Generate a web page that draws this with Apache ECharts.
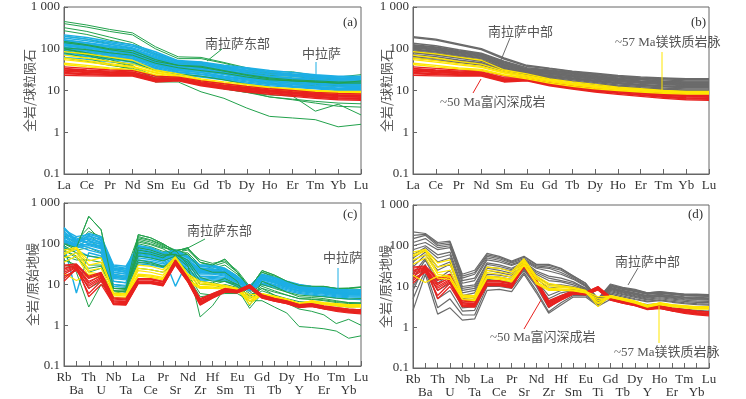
<!DOCTYPE html>
<html>
<head>
<meta charset="utf-8">
<script src="https://cdn.jsdelivr.net/npm/echarts@6/dist/echarts.min.js"></script>
<style>
  html, body { margin: 0; padding: 0; background: #fff; }
  #chart { width: 746px; height: 399px; }
</style>
</head>
<body>
<div id="chart"></div>
<script>
// 稀土元素 (球粒陨石标准化) 与 微量元素 (原始地幔标准化) 的元素顺序
const reeElements = ['La', 'Ce', 'Pr', 'Nd', 'Sm', 'Eu', 'Gd', 'Tb', 'Dy', 'Ho', 'Er', 'Tm', 'Yb', 'Lu'];
const spiderElements = ['Rb', 'Ba', 'Th', 'U', 'Nb', 'Ta', 'La', 'Ce', 'Pr', 'Sr', 'Nd', 'Zr', 'Hf', 'Sm', 'Eu', 'Ti', 'Gd', 'Tb', 'Dy', 'Y', 'Ho', 'Er', 'Tm', 'Yb', 'Lu'];

// 南拉萨东部 (REE)
const reeEastSouthLhasa = [
  [450, 370, 290, 240, 112, 64, 62, 47, 35, 28, 28, 23, 21, 24],
  [400, 330, 260, 215, 100, 58, 58, 45, 33, 26, 25, 21, 19, 22],
  [320, 260, 190, 140, 75, 50, 48, 38, 30, 25, 23, 20, 19, 20],
  [270, 220, 160, 125, 70, 47, 45, 36, 28, 23, 22, 19, 18, 19],
  [200, 170, 130, 100, 60, 44, 43, 34, 27, 22, 20, 18, 17, 17],
  [150, 125, 100, 90, 55, 40, 36, 29, 23, 19, 17, 16, 15, 15],
  [140, 120, 95, 80, 50, 40, 38, 30, 24, 20, 18, 17, 16, 16],
  [120, 100, 80, 65, 42, 33, 30, 25, 20, 17, 15, 14, 13, 14],
  [110, 90, 70, 58, 38, 30, 27, 22, 18, 15, 14, 13, 12.5, 13],
  [100, 80, 60, 48, 30, 25, 22, 18, 14, 12, 10, 9, 8.5, 9],
  [90, 70, 50, 38, 22, 18, 14, 11, 9, 7, 6.2, 5.5, 5, 4.8],
  [80, 60, 42, 32, 20, 18, 14, 11, 9, 7.8, 7.4, 3.2, 4.7, 2.6],
  [100, 75, 55, 40, 16, 16, 9.3, 6.5, 3.8, 2.4, 2.2, 2.0, 1.35, 1.55],
  [60, 50, 40, 34, 22, 18, 15, 12, 9.5, 7, 6, 5, 4.2, 4],
  [105, 95, 80, 70, 45, 35, 30, 26, 21, 18, 17, 16, 15, 17]
];

// 中拉萨 (REE)
const reeCentralLhasa = [
  [215, 185, 150, 125, 85, 52, 48, 40, 35, 30, 27, 24, 22, 22],
  [200, 170, 140, 115, 78, 50, 46, 38, 33, 28, 25, 23, 21, 21],
  [180, 155, 128, 105, 72, 47, 44, 36, 31, 27, 24, 22, 20, 20],
  [165, 140, 118, 98, 66, 44, 41, 34, 29, 25, 23, 21, 19, 19],
  [150, 128, 108, 90, 62, 42, 39, 32, 28, 24, 22, 20, 18, 18],
  [140, 120, 100, 84, 58, 40, 37, 30, 26, 22, 20, 18.5, 17, 17],
  [130, 112, 94, 78, 54, 38, 35, 29, 25, 21, 19, 17.5, 16, 16.5],
  [120, 104, 88, 73, 51, 36, 33, 27, 23, 20, 18, 16.5, 15, 15.5],
  [110, 96, 82, 68, 48, 34, 31, 26, 22, 19, 17, 15.5, 14.5, 14.5],
  [100, 88, 75, 63, 45, 32, 29, 24, 20, 17.5, 16, 14.5, 13.5, 13.5],
  [95, 82, 70, 59, 42, 30, 27, 22, 19, 16.5, 15, 13.5, 12.5, 12.5],
  [88, 76, 65, 55, 39, 28, 25, 21, 18, 15.5, 14, 12.5, 11.5, 12],
  [80, 70, 60, 51, 36, 27, 24, 20, 17, 14.5, 13, 12, 11, 11],
  [75, 65, 56, 48, 34, 25, 22, 19, 16, 14, 12.5, 11.5, 10.5, 10.5],
  [62, 56, 49, 44, 32, 24, 21, 18, 15, 13, 12, 11, 10, 10],
  [160, 138, 112, 92, 60, 40, 36, 30, 25, 21, 19, 17, 15.5, 16],
  [125, 108, 90, 76, 52, 35, 32, 26, 22, 19, 17, 15.5, 14, 14],
  [105, 92, 78, 65, 46, 33, 30, 25, 21, 18.5, 16.5, 15, 14, 14]
];

// 南拉萨中部 (REE)
const reeMidSouthLhasa = [
  [195, 170, 130, 100, 60, 40, 34, 29, 26, 23, 21, 20, 19, 19],
  [185, 162, 125, 96, 57, 38, 33, 28, 25, 22, 20, 19, 18, 18],
  [135, 118, 95, 78, 50, 35, 31, 27, 24, 21, 19.5, 18, 17, 17],
  [125, 110, 90, 75, 48, 33, 30, 26, 23, 20, 18.5, 17, 16, 16],
  [120, 105, 86, 72, 46, 32, 29, 25, 22, 19.5, 18, 16.5, 15.5, 15.5],
  [115, 100, 82, 68, 44, 31, 28, 24, 21, 18.5, 17, 16, 15, 15],
  [110, 96, 80, 66, 42, 30, 27, 23, 20.5, 18, 16.5, 15.5, 14.5, 14.6],
  [105, 92, 76, 63, 41, 29, 26, 22.5, 20, 17.5, 16, 15, 14, 14],
  [98, 87, 72, 60, 40, 28, 25, 21.5, 19, 17, 15.5, 14.5, 13.5, 13.6],
  [95, 84, 70, 58, 38, 27, 24.5, 21, 18.5, 16.5, 15, 14, 13, 13],
  [88, 78, 65, 54, 36, 26, 23, 20, 17.5, 15.5, 14, 13, 12.3, 12.3],
  [82, 73, 61, 52, 35, 25.5, 22.5, 19.5, 17, 15, 13.6, 12.6, 12, 12],
  [80, 71, 60, 50, 34, 25, 22, 19, 16.5, 14.5, 13.2, 12.3, 11.6, 11.6],
  [72, 64, 54, 46, 32, 24, 21, 18, 15.5, 13.6, 12.4, 11.5, 10.8, 10.8],
  [65, 58, 50, 43, 30, 23, 20, 17, 14.5, 12.8, 11.7, 10.8, 10.2, 10.2],
  [60, 54, 47, 41, 29, 22, 19.5, 16.5, 14, 12.2, 11.2, 10.4, 9.8, 9.8]
];

// ~57 Ma 镁铁质岩脉 (REE)
const reeDyke57 = [
  [85, 75, 63, 53, 31, 25, 19, 16, 14, 12, 11, 10, 9.5, 9.5],
  [70, 60, 50, 43, 29, 23, 18, 15, 13, 11.5, 10.5, 9.8, 9.3, 9.4],
  [60, 52, 44, 38, 27, 22, 17.5, 14.5, 12.5, 11, 10.2, 9.5, 9, 9],
  [55, 48, 41, 36, 26, 21, 17, 14, 12.2, 10.8, 10, 9.3, 8.8, 8.8],
  [45, 40, 35, 32, 24, 20, 16, 13.5, 11.8, 10.5, 9.7, 9, 8.5, 8.5],
  [42, 37, 33, 30, 23, 19, 15, 12.5, 11, 10, 9.2, 8.5, 8.2, 8.2]
];

// ~50 Ma 富闪深成岩 (REE)
const reePluton50 = [
  [37, 34, 31, 30, 22, 21, 17, 14.5, 12.5, 11, 10, 9, 8.5, 8.3],
  [34, 31, 29, 28, 20, 20, 16, 13.5, 11.8, 10.4, 9.4, 8.6, 8, 7.8],
  [33, 30, 28, 27, 20, 19.5, 15.5, 13, 11.4, 10, 9, 8.3, 7.7, 7.5],
  [31, 29, 27, 26, 19, 19, 15, 13, 11.2, 9.8, 8.8, 8.1, 7.5, 7.3],
  [30, 28, 26, 25, 18.5, 18.5, 14.8, 12.4, 10.8, 9.5, 8.6, 7.8, 7.3, 7],
  [29, 27, 25.5, 25, 18, 18.5, 14.5, 12.3, 10.6, 9.3, 8.4, 7.7, 7.1, 6.9],
  [27, 25.5, 24, 24, 17, 18, 14, 11.8, 10.1, 8.9, 8, 7.3, 6.7, 6.5],
  [26, 25, 24, 24.5, 17.5, 18, 14, 11.6, 10, 8.8, 7.9, 7.1, 6.6, 6.4],
  [25, 24, 23, 23, 16.5, 17.5, 13.5, 11.3, 9.6, 8.5, 7.6, 6.9, 6.3, 6.1],
  [23, 22.5, 22, 22, 16, 17, 13, 10.8, 9.2, 8.1, 7.2, 6.5, 6, 5.8]
];

// 南拉萨东部 (原始地幔标准化)
const spEastSouthLhasa = [
  [100, 80, 470, 220, 8, 8, 167, 140, 100, 65, 80, 35, 30, 42, 20, 8, 22, 17, 12, 9.5, 9, 9, 8, 8, 8.5],
  [180, 120, 250, 120, 25, 22, 150, 125, 95, 70, 75, 40, 33, 38, 22, 9, 20, 15, 11, 9, 8.5, 8.3, 7.5, 7.2, 7.5],
  [160, 100, 200, 150, 18, 16, 130, 110, 85, 60, 70, 35, 28, 35, 20, 8.5, 20, 16, 11.5, 9.2, 9, 8.8, 8, 8.2, 8.8],
  [150, 110, 160, 100, 15, 14, 140, 120, 90, 60, 60, 30, 25, 30, 18, 8, 18, 14, 10.5, 8.5, 8.2, 7.8, 7.2, 7, 7.2],
  [120, 90, 120, 80, 12, 11, 120, 100, 80, 70, 55, 25, 22, 25, 16, 7, 16, 12, 9.5, 8, 7.5, 7.2, 6.6, 6.4, 6.5],
  [100, 70, 80, 60, 10, 9, 100, 85, 65, 65, 45, 20, 18, 20, 14, 6.5, 14, 11, 8.5, 7, 6.8, 6.5, 6, 5.8, 6],
  [60, 20, 2.8, 10, 6, 7, 110, 95, 75, 50, 55, 25, 20, 20, 12, 3, 12, 9, 6.5, 5, 4.8, 4.5, 4, 3.6, 3.5],
  [90, 60, 30, 30, 7, 6.5, 80, 70, 55, 55, 40, 15, 12, 12, 9, 5, 8, 5.5, 3.5, 2.5, 2.2, 1.8, 1.1, 1.4, 1],
  [80, 60, 50, 45, 8, 8, 50, 45, 38, 50, 28, 10, 10, 12, 10, 6, 10, 8, 6.5, 5.5, 5.2, 5, 4.6, 4.4, 4.5],
  [70, 50, 20, 25, 8, 8, 40, 35, 28, 30, 18, 6, 5.5, 6, 6, 4, 4, 2.8, 2, 0.93, 0.88, 0.82, 0.72, 0.48, 0.55],
  [50, 40, 40, 35, 7, 6.5, 35, 32, 27, 40, 22, 8, 8, 10, 8.5, 5.5, 8, 6.5, 5.5, 4.5, 4.4, 4.2, 3.8, 3.6, 3.5],
  [40, 30, 15, 18, 7, 7, 60, 55, 45, 70, 30, 1.6, 3, 8, 8, 2.6, 6, 4.5, 3.6, 3, 2.9, 2.7, 2.5, 2.3, 2.4],
  [30, 25, 8, 12, 6, 6, 25, 23, 20, 35, 16, 5, 5.5, 8, 7.5, 4.5, 7, 5.5, 4.5, 3.8, 3.6, 3.4, 3, 2.8, 2.9],
  [70, 45, 25, 28, 8, 7.5, 70, 62, 50, 55, 35, 12, 11, 14, 10, 5, 9, 7, 5.5, 4.5, 4.3, 4, 3.6, 3.4, 3.5]
];

// 中拉萨 (原始地幔标准化)
const spCentralLhasa = [
  [250, 120, 180, 150, 30, 28, 90, 80, 60, 70, 50, 30, 30, 25, 16, 8, 18, 15, 12, 10, 9, 8.5, 8, 7.5, 7.4],
  [240, 110, 150, 130, 26, 24, 88, 78, 60, 62, 46, 27, 27, 22, 15, 9, 17, 14, 11, 9.3, 8.4, 7.8, 7.3, 6.9, 6.8],
  [220, 150, 170, 140, 28, 25, 85, 75, 58, 68, 48, 29, 28, 24, 15.5, 9, 17.5, 14.5, 11.5, 9.8, 8.8, 8.2, 7.7, 7.2, 7.2],
  [200, 110, 160, 120, 25, 22, 80, 70, 55, 65, 45, 28, 27, 23, 15, 8.5, 17, 14, 11, 9.5, 8.5, 8, 7.5, 7, 7],
  [180, 130, 110, 100, 20, 18, 75, 65, 52, 9, 38, 24, 23, 20, 13.5, 8.5, 15.5, 12.5, 10, 8.6, 7.8, 7.3, 6.8, 6.4, 6.3],
  [170, 100, 140, 110, 22, 20, 70, 62, 50, 60, 40, 25, 24, 21, 14, 8, 16, 13, 10.5, 9, 8, 7.5, 7, 6.6, 6.6],
  [160, 140, 100, 90, 17, 15, 58, 52, 43, 55, 34, 21, 21, 18.5, 12.5, 8, 14.5, 12, 9.8, 8.3, 7.4, 6.9, 6.4, 6.1, 6],
  [150, 90, 120, 95, 20, 18, 62, 56, 45, 55, 36, 22, 22, 19, 13, 8.5, 15, 12, 10, 8.5, 7.5, 7, 6.5, 6.2, 6.2],
  [140, 120, 130, 105, 24, 20, 65, 58, 47, 58, 38, 23, 23, 20, 13.5, 8, 15, 12.5, 10, 8.8, 7.8, 7.2, 6.7, 6.4, 6.3],
  [130, 85, 100, 85, 18, 16, 55, 50, 42, 52, 33, 20, 20, 18, 12, 8, 14, 11.5, 9.5, 8, 7.2, 6.7, 6.2, 5.9, 5.8],
  [125, 95, 95, 80, 15, 14, 52, 47, 40, 48, 31, 19, 19, 17, 12, 8, 13.5, 11, 9.2, 7.8, 7, 6.5, 6, 5.7, 5.6],
  [120, 80, 90, 75, 16, 15, 50, 45, 38, 50, 30, 18, 18, 16, 11.5, 7.5, 13, 11, 9, 7.6, 6.8, 6.4, 5.9, 5.6, 5.5],
  [110, 100, 80, 65, 14, 13, 45, 41, 35, 45, 27, 16, 16, 15, 11, 8, 12, 10, 8.5, 7.2, 6.5, 6.1, 5.6, 5.3, 5.2],
  [100, 90, 70, 58, 12, 11, 40, 37, 32, 42, 24, 14, 15, 14, 10, 7.5, 11, 9.5, 8, 6.8, 6.2, 5.8, 5.3, 5, 4.9],
  [90, 6.2, 60, 50, 10, 9.5, 36, 34, 29, 40, 22, 13, 14, 13, 9.5, 7.5, 10.5, 9, 7.5, 6.4, 5.8, 5.4, 5, 4.7, 4.6],
  [80, 70, 50, 45, 9, 8.5, 32, 30, 26, 35, 20, 12, 13, 12, 9, 7, 10, 8.5, 7, 6, 5.5, 5.1, 4.7, 4.4, 4.3]
];

// 南拉萨中部 (原始地幔标准化)
const spMidSouthLhasa = [
  [220, 200, 120, 130, 20, 25, 65, 55, 42, 55, 35, 35, 28, 18, 12, 5, 11.5, 9.5, 8.5, 7, 7.5, 7, 6.5, 6.5, 6.3],
  [180, 190, 110, 120, 18, 22, 60, 52, 40, 52, 34, 33, 27, 18, 12, 5, 11, 9.2, 8.2, 7, 7.4, 6.9, 6.4, 6.3, 6.2],
  [150, 180, 100, 110, 16, 20, 55, 48, 38, 48, 32, 30, 25, 17, 11, 4.5, 10.5, 9, 8, 6.8, 7.2, 6.7, 6.3, 6.2, 6],
  [120, 150, 90, 100, 14, 16, 50, 44, 35, 45, 30, 28, 22, 16, 10.5, 4.6, 10.2, 8.7, 7.7, 6.6, 7, 6.5, 6.1, 6, 5.8],
  [100, 120, 80, 90, 12, 14, 45, 40, 33, 42, 28, 24, 20, 15, 10, 4.2, 10, 8.5, 7.5, 6.4, 6.8, 6.4, 6, 5.8, 5.7],
  [80, 100, 60, 70, 10, 11, 38, 34, 28, 40, 24, 18, 16, 13, 9, 4.4, 9.5, 8, 7, 6, 6.4, 6, 5.6, 5.4, 5.3],
  [60, 90, 50, 60, 9, 10, 35, 31, 26, 38, 22, 16, 14, 12, 9, 4.5, 9.2, 7.8, 6.8, 5.8, 6.2, 5.8, 5.4, 5.2, 5.1],
  [50, 80, 40, 50, 8, 9, 30, 28, 24, 35, 20, 14, 13, 11, 8.5, 4, 9, 7.5, 6.5, 5.6, 6, 5.6, 5.2, 5, 5],
  [40, 70, 30, 40, 7, 8, 28, 25, 21, 32, 18, 11, 11, 10, 8.2, 4.2, 8.8, 7.3, 6.3, 5.4, 5.8, 5.4, 5, 4.9, 4.8],
  [30, 60, 25, 35, 6, 7, 25, 22, 19, 30, 16, 9, 10, 9.5, 8, 4.3, 8.5, 7, 6, 5.2, 5.6, 5.2, 4.8, 4.7, 4.6],
  [20, 50, 15, 25, 5, 5.5, 20, 19, 17, 30, 14, 6, 8, 8.5, 7.5, 4.1, 8, 6.6, 5.7, 4.9, 5.3, 4.9, 4.6, 4.4, 4.3],
  [15, 45, 12, 20, 4, 5, 18, 17, 15, 28, 12, 5, 7, 8, 7, 4, 7.5, 6.3, 5.4, 4.7, 5, 4.6, 4.3, 4.1, 4],
  [10, 30, 8, 12, 3, 3.2, 15, 14, 13, 26, 11, 4, 6, 7, 6.8, 3.9, 7, 5.9, 5, 4.4, 4.7, 4.3, 4, 3.8, 3.7],
  [8, 35, 5, 8, 2.5, 2.6, 12, 12, 11, 25, 10, 3, 5, 6.5, 6.5, 3.8, 6.5, 5.5, 4.8, 4.2, 4.5, 4.1, 3.8, 3.6, 3.5],
  [5, 25, 3, 5, 2, 2, 10, 10, 9, 22, 8, 2.4, 4, 6, 6, 3.5, 5.5, 4.7, 4, 3.6, 3.8, 3.5, 3.2, 3, 2.9],
  [2.6, 20, 2.1, 3, 1.5, 1.6, 8, 8.5, 7.5, 20, 7, 2.2, 3.5, 5.5, 5.5, 3.3, 4.8, 4.1, 3.5, 3.1, 3.3, 3, 2.8, 2.6, 2.5]
];

// ~57 Ma 镁铁质岩脉 (原始地幔标准化)
const spDyke57 = [
  [70, 82, 38, 45, 6.2, 6, 30, 28, 23, 48, 18, 12, 10.5, 9.5, 8, 3.2, 6, 5.2, 4.4, 3.4, 4, 3.6, 3.4, 3.2, 3.2],
  [60, 80, 30, 35, 6, 5.8, 25, 23, 20, 45, 16.5, 11, 10, 9, 7.8, 4, 5.9, 5.1, 4.3, 3.4, 3.9, 3.5, 3.3, 3.1, 3.1],
  [55, 75, 22, 25, 5.5, 5.2, 22, 20, 17, 42, 15, 10, 9.5, 8.8, 7.6, 5.6, 5.8, 5, 4.3, 3.5, 3.9, 3.5, 3.3, 3.1, 3.1],
  [45, 60, 20, 18, 5, 4.8, 18, 17, 15, 38, 13, 9, 8.8, 8.2, 7.3, 4.5, 5.6, 4.8, 4.1, 3.3, 3.8, 3.4, 3.2, 3, 3],
  [35, 50, 16, 15, 4.8, 4.5, 16, 15, 13, 33, 11.5, 8, 8, 7.8, 7, 3.8, 5.4, 4.6, 3.9, 3.1, 3.6, 3.2, 3, 2.8, 2.8],
  [19, 12.5, 18, 17, 5.8, 5.5, 17, 16, 14, 35, 12, 8.5, 8.3, 8, 7.1, 5, 5.5, 4.7, 4, 3.2, 3.7, 3.3, 3.1, 2.9, 2.9]
];

// ~50 Ma 富闪深成岩 (原始地幔标准化)
const spPluton50 = [
  [30, 32, 16, 20, 4.8, 4.6, 14, 14, 12, 40, 15, 4.5, 6, 8, 7.2, 10, 5.6, 4.6, 4, 3.2, 3.4, 3, 2.7, 2.5, 2.4],
  [28, 31, 15, 19, 4.6, 4.4, 13.5, 13.5, 11.8, 39, 14.5, 4.3, 5.9, 7.8, 7.1, 9.8, 5.5, 4.5, 3.9, 3.2, 3.3, 2.9, 2.7, 2.5, 2.4],
  [25, 30, 14, 18, 4.4, 4.2, 13, 13, 11.5, 38, 14, 4.2, 5.7, 7.6, 7, 9.6, 5.4, 4.4, 3.8, 3.1, 3.3, 2.9, 2.6, 2.4, 2.3],
  [24, 29, 5, 10, 3.3, 3.2, 10.8, 10.8, 9.4, 30, 11.8, 3.2, 4.7, 6.6, 6.3, 8.3, 4.7, 3.9, 3.4, 2.8, 2.9, 2.5, 2.3, 2.1, 2],
  [22, 28, 12, 16, 4, 3.9, 12, 12, 10.8, 36, 13, 3.9, 5.4, 7.3, 6.8, 9.2, 5.2, 4.3, 3.7, 3, 3.2, 2.8, 2.5, 2.3, 2.2],
  [20, 27, 11, 17, 3.9, 3.8, 12, 12, 10.5, 35, 12.8, 3.7, 5.2, 7.1, 6.7, 9, 5.1, 4.2, 3.6, 2.9, 3.1, 2.7, 2.5, 2.3, 2.2],
  [18, 26, 10, 15, 3.7, 3.6, 11.5, 11.5, 10.2, 34, 12.5, 3.6, 5.1, 7, 6.6, 8.8, 5, 4.1, 3.6, 2.9, 3.1, 2.7, 2.4, 2.2, 2.1],
  [16, 22, 9, 14, 3.5, 3.4, 11, 11.2, 9.8, 33, 12.2, 3.4, 4.9, 6.8, 6.5, 8.6, 4.9, 4, 3.5, 2.8, 3, 2.6, 2.4, 2.2, 2.1],
  [14, 25, 8, 13, 3.4, 3.3, 11, 11, 9.6, 32, 12, 3.3, 4.8, 6.7, 6.4, 8.4, 4.8, 4, 3.5, 2.8, 3, 2.6, 2.3, 2.1, 2],
  [12, 24, 6, 12, 3.2, 3.1, 10.5, 10.5, 9.2, 31, 11.5, 3.1, 4.6, 6.5, 6.2, 8.2, 4.6, 3.9, 3.4, 2.7, 2.9, 2.5, 2.2, 2, 1.9]
];

const GREEN = '#22a24c';
const BLUE = '#1daee5';
const YELLOW = '#ffe600';
const RED = '#e8221f';
const GRAY = '#6b6b6b';
const SERIF = "'Liberation Serif', 'Noto Sans CJK SC', serif";
const CJK = "'Noto Sans CJK SC', sans-serif";

const chart = echarts.init(document.getElementById('chart'), null, { renderer: 'canvas' });

const grids = [
  { left: 64, top: 7, width: 297, height: 167 },
  { left: 413, top: 7, width: 296, height: 167 },
  { left: 64, top: 203, width: 297, height: 163 },
  { left: 413, top: 205, width: 296, height: 163 }
].map((g) => ({ ...g, show: true, borderColor: '#666', borderWidth: 1, backgroundColor: 'transparent' }));

function xAxisFor(gridIndex, cats, twoRows) {
  return {
    gridIndex,
    type: 'category',
    data: cats,
    boundaryGap: false,
    axisLine: { lineStyle: { color: '#666', width: 1 } },
    axisTick: { inside: true, length: 5, interval: 0, lineStyle: { color: '#666' } },
    axisLabel: {
      interval: 0,
      margin: 5,
      color: '#333',
      fontFamily: SERIF,
      fontSize: 13,
      lineHeight: 13,
      formatter: twoRows ? (v, i) => (i % 2 ? '\n' + v : v) : (v) => v
    },
    splitLine: { show: false }
  };
}

function yAxisFor(gridIndex, name, nameGap) {
  return {
    gridIndex,
    type: 'log',
    logBase: 10,
    min: 0.1,
    max: 1000,
    name,
    nameLocation: 'middle',
    nameGap,
    nameMoveOverlap: false,
    nameTextStyle: { color: '#555', fontFamily: CJK, fontSize: 13 },
    axisLine: { show: true, lineStyle: { color: '#666', width: 1 } },
    axisTick: { show: true, inside: true, length: 4, lineStyle: { color: '#666' } },
    axisLabel: {
      margin: 4,
      color: '#333',
      fontFamily: SERIF,
      fontSize: 13,
      formatter: (v) => (v >= 999 ? '1 000' : v >= 0.9 ? String(Math.round(v)) : '0.1')
    },
    splitLine: { show: false }
  };
}

const series = [];
function addGroup(idx, rows, color, width) {
  rows.forEach((row) => {
    series.push({
      type: 'line',
      xAxisIndex: idx,
      yAxisIndex: idx,
      data: row,
      symbol: 'none',
      silent: true,
      animation: false,
      lineStyle: { color, width }
    });
  });
}

// (a)
addGroup(0, reeEastSouthLhasa.slice(0, 9), GREEN, 1);
addGroup(0, reeCentralLhasa, BLUE, 1.5);
addGroup(0, reeEastSouthLhasa.slice(9), GREEN, 1);
addGroup(0, reeEastSouthLhasa.slice(5, 7), GREEN, 1);
addGroup(0, reeDyke57, YELLOW, 1.3);
addGroup(0, reePluton50, RED, 1.3);
// (b)
addGroup(1, reeMidSouthLhasa, GRAY, 1.5);
addGroup(1, reePluton50, RED, 1.3);
addGroup(1, reeDyke57, YELLOW, 1.3);
// (c)
addGroup(2, spEastSouthLhasa.slice(0, 6), GREEN, 1);
addGroup(2, spCentralLhasa, BLUE, 1.4);
addGroup(2, spEastSouthLhasa.slice(6), GREEN, 1);
addGroup(2, spEastSouthLhasa.slice(0, 1), GREEN, 1);
addGroup(2, spDyke57, YELLOW, 1.2);
addGroup(2, spPluton50, RED, 1.2);
// (d)
addGroup(3, spMidSouthLhasa, GRAY, 1.2);
addGroup(3, spPluton50, RED, 1.2);
addGroup(3, spDyke57, YELLOW, 1.2);

function label(text, x, y, color, family) {
  return {
    type: 'text', x, y, z: 100, silent: true,
    style: { text, fill: color || '#555', font: '13px ' + (family || SERIF), align: 'left', verticalAlign: 'middle' }
  };
}
function leader(x1, y1, x2, y2, color) {
  return {
    type: 'line', z: 100, silent: true,
    shape: { x1, y1, x2, y2 },
    style: { stroke: color, lineWidth: 1 }
  };
}

const graphic = [
  label('(a)', 343, 23, '#333'),
  label('南拉萨东部', 205, 43, '#555', CJK),
  leader(207, 61, 222, 49, GREEN),
  label('中拉萨', 302, 53, '#555', CJK),
  leader(316, 62, 316, 78, BLUE),

  label('(b)', 691, 23, '#333'),
  label('南拉萨中部', 488, 31, '#555', CJK),
  leader(510, 38, 501, 60, GRAY),
  label('~57 Ma镁铁质岩脉', 615, 43, '#555'),
  leader(662, 52, 662, 92, YELLOW),
  label('~50 Ma富闪深成岩', 440, 103, '#555'),
  leader(473, 93, 481, 79, RED),

  label('(c)', 343, 215, '#333'),
  label('南拉萨东部', 187, 230, '#555', CJK),
  leader(205, 239, 182, 251, GREEN),
  label('中拉萨', 323, 257, '#555', CJK),
  leader(338, 268, 338, 289, BLUE),

  label('(d)', 688, 215, '#333'),
  label('南拉萨中部', 615, 261, '#555', CJK),
  leader(638, 268, 628, 285, GRAY),
  label('~50 Ma富闪深成岩', 490, 338, '#555'),
  leader(524, 329, 541, 300, RED),
  label('~57 Ma镁铁质岩脉', 614, 353, '#555'),
  leader(659, 306, 659, 343, YELLOW)
];

chart.setOption({
  animation: false,
  backgroundColor: '#fff',
  grid: grids,
  xAxis: [
    xAxisFor(0, reeElements, false),
    xAxisFor(1, reeElements, false),
    xAxisFor(2, spiderElements, true),
    xAxisFor(3, spiderElements, true)
  ],
  yAxis: [
    yAxisFor(0, '全岩/球粒陨石', 28),
    yAxisFor(1, '全岩/球粒陨石', 20),
    yAxisFor(2, '全岩/原始地幔', 25),
    yAxisFor(3, '全岩/原始地幔', 21)
  ],
  series,
  graphic
});
</script>
</body>
</html>
